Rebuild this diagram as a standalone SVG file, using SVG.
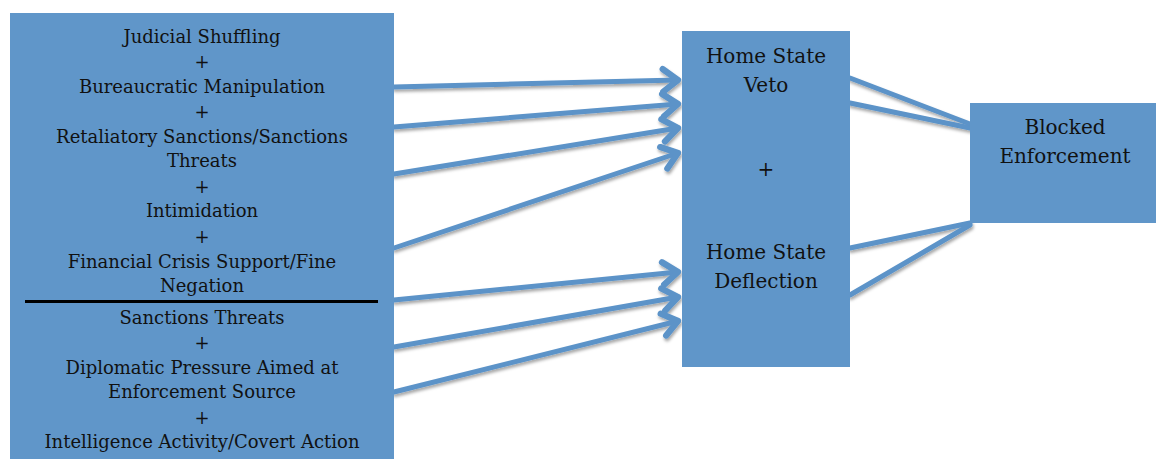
<svg xmlns="http://www.w3.org/2000/svg" width="1157" height="459" viewBox="0 0 1157 459">
<style>
.box{fill:#6096c9;}
.t{font-family:"DejaVu Serif","Liberation Serif",serif;font-size:18px;fill:#111;text-anchor:middle;}
.tm{font-family:"DejaVu Serif","Liberation Serif",serif;font-size:20px;fill:#111;text-anchor:middle;}
.ln{stroke:#5c93c8;stroke-width:5;fill:none;stroke-linecap:round;}
</style>
<defs>
<filter id="sh" x="-10%" y="-50%" width="120%" height="200%">
<feDropShadow dx="1" dy="2.5" stdDeviation="1.5" flood-color="#000" flood-opacity="0.35"/>
</filter>
<marker id="ah" markerUnits="userSpaceOnUse" markerWidth="30" markerHeight="30" refX="16" refY="12" orient="auto" viewBox="0 0 20 24">
<path d="M4,3 L16,12 L4,21" fill="none" stroke="#5c93c8" stroke-width="5" stroke-linecap="round" stroke-linejoin="round"/>
</marker>
</defs>
<rect width="1157" height="459" fill="#fff"/>
<g id="connectors" filter="url(#sh)">
<path class="ln" d="M394,87 L678,80" marker-end="url(#ah)"/>
<path class="ln" d="M394,127 L678,104" marker-end="url(#ah)"/>
<path class="ln" d="M394,174 L678,128" marker-end="url(#ah)"/>
<path class="ln" d="M394,248 L678,153" marker-end="url(#ah)"/>
<path class="ln" d="M394,300 L678,272" marker-end="url(#ah)"/>
<path class="ln" d="M394,347 L678,297" marker-end="url(#ah)"/>
<path class="ln" d="M394,392 L678,321" marker-end="url(#ah)"/>
<path class="ln" d="M850,78 L970,124"/>
<path class="ln" d="M850,103 L970,128"/>
<path class="ln" d="M850,248 L970,223"/>
<path class="ln" d="M850,295 L970,225"/>
</g>
<g id="left-node">
<rect class="box" x="10" y="13" width="384" height="446"/>
<text class="t" x="202" y="43">Judicial Shuffling</text>
<text class="t" x="202" y="68">+</text>
<text class="t" x="202" y="93">Bureaucratic Manipulation</text>
<text class="t" x="202" y="118">+</text>
<text class="t" x="202" y="143">Retaliatory Sanctions/Sanctions</text>
<text class="t" x="202" y="167">Threats</text>
<text class="t" x="202" y="193">+</text>
<text class="t" x="202" y="217">Intimidation</text>
<text class="t" x="202" y="243">+</text>
<text class="t" x="202" y="268">Financial Crisis Support/Fine</text>
<text class="t" x="202" y="292">Negation</text>
<line x1="25" y1="301.5" x2="378" y2="301.5" stroke="#000" stroke-width="3"/>
<text class="t" x="202" y="324">Sanctions Threats</text>
<text class="t" x="202" y="349">+</text>
<text class="t" x="202" y="374">Diplomatic Pressure Aimed at</text>
<text class="t" x="202" y="398">Enforcement Source</text>
<text class="t" x="202" y="424">+</text>
<text class="t" x="202" y="448">Intelligence Activity/Covert Action</text>
</g>
<g id="middle-node">
<rect class="box" x="682" y="31" width="168" height="336"/>
<text class="tm" x="766" y="63">Home State</text>
<text class="tm" x="766" y="92">Veto</text>
<text class="tm" x="766" y="176">+</text>
<text class="tm" x="766" y="259">Home State</text>
<text class="tm" x="766" y="288">Deflection</text>
</g>
<g id="right-node">
<rect class="box" x="970" y="103" width="186" height="120"/>
<text class="tm" x="1065" y="134">Blocked</text>
<text class="tm" x="1065" y="163">Enforcement</text>
</g>
</svg>
